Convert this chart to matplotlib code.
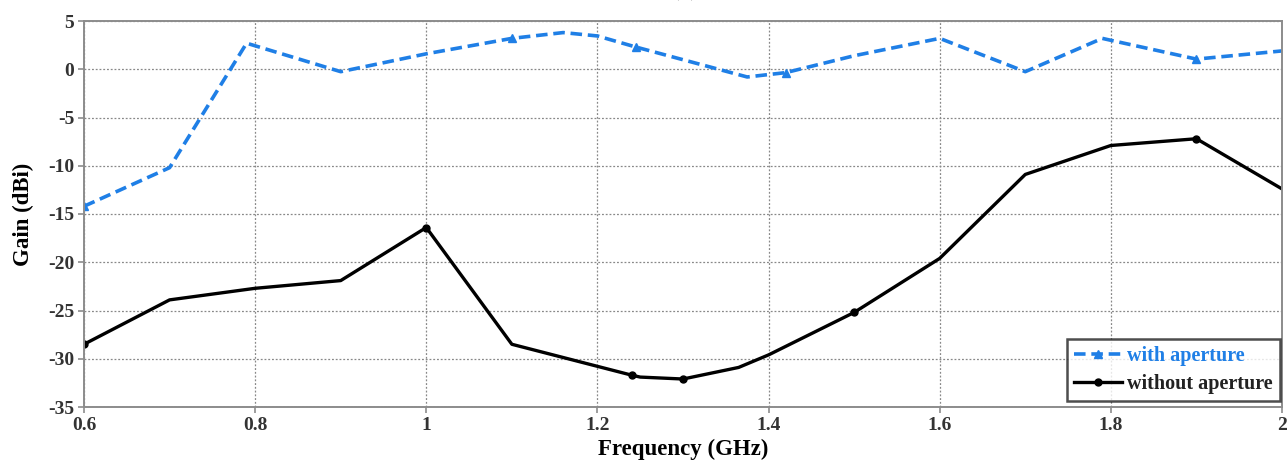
import matplotlib.pyplot as plt

# ── 資料 ────────────────────────────────────────────
freq_with = [0.6, 0.7, 0.79, 0.9, 1.0, 1.1, 1.16, 1.2, 1.245, 1.375,
             1.42, 1.5, 1.6, 1.7, 1.79, 1.8, 1.9, 2.0]
gain_with = [-14.2, -10.2, 2.7, -0.25, 1.6, 3.2, 3.8, 3.45, 2.3, -0.8,
             -0.35, 1.4, 3.2, -0.25, 3.2, 3.0, 1.05, 1.9]
marks_with = [0, 5, 8, 10, 16]

freq_without = [0.6, 0.7, 0.8, 0.9, 1.0, 1.1, 1.24, 1.25, 1.3, 1.365,
                1.4, 1.5, 1.6, 1.7, 1.8, 1.9, 2.0]
gain_without = [-28.5, -23.9, -22.7, -21.9, -16.4, -28.5, -31.7, -31.9, -32.1, -30.9,
                -29.6, -25.2, -19.6, -10.9, -7.9, -7.2, -12.4]
marks_without = [0, 4, 6, 8, 11, 15]

x_ticks = [0.6, 0.8, 1.0, 1.2, 1.4, 1.6, 1.8, 2.0]
x_labels = ["0.6", "0.8", "1", "1.2", "1.4", "1.6", "1.8", "2"]
y_ticks = list(range(-35, 6, 5))

BLUE = "#1f7fe6"
SERIF = ["Liberation Serif", "DejaVu Serif"]

plt.rcParams["font.family"] = SERIF
plt.rcParams["font.weight"] = "bold"
plt.rcParams["axes.unicode_minus"] = False

fig = plt.figure(figsize=(12.88, 4.74), dpi=100)
ax = fig.add_axes([84 / 1288, 1 - 407 / 474, 1198 / 1288, 386 / 474])

ax.plot(freq_with, gain_with, color=BLUE, lw=2.6, ls=(0, (3.2, 1.6)),
        marker="^", ms=6, markevery=marks_with, label="with aperture")
ax.plot(freq_without, gain_without, color="black", lw=2.4,
        marker="o", ms=5, markevery=marks_without, label="without aperture")

ax.set_xlim(0.6, 2.0)
ax.set_ylim(-35, 5)
ax.set_xticks(x_ticks)
ax.set_xticklabels(x_labels)
ax.set_yticks(y_ticks)
ax.grid(True, color="#888888", ls=(0, (1.5, 1.5)), lw=0.9)
ax.set_axisbelow(True)

for s in ax.spines.values():
    s.set_color("#8c8c8c")
    s.set_linewidth(1.4)
ax.tick_params(axis="both", labelsize=14, colors="#8c8c8c", length=4,
               width=1.2, labelcolor="#333333", pad=3)
for lab in ax.get_xticklabels() + ax.get_yticklabels():
    lab.set_fontweight("bold")

ax.set_xlabel("Frequency (GHz)", fontsize=16.5, fontweight="bold", labelpad=4)
ax.set_ylabel("Gain (dBi)", fontsize=16.5, fontweight="bold", labelpad=10)

leg = ax.legend(loc="lower right", bbox_to_anchor=(1.0, 0.01),
                prop={"family": SERIF, "weight": "bold", "size": 14.5},
                frameon=True, fancybox=False, handlelength=2.4,
                handletextpad=0.25, borderpad=0.35, labelspacing=0.4,
                borderaxespad=0.1)
leg.get_frame().set_edgecolor("#222222")
leg.get_frame().set_linewidth(1.8)
leg.get_texts()[0].set_color(BLUE)
leg.get_texts()[1].set_color("#222222")

# 上方被裁切的子圖標籤（原圖即被裁掉）
fig.text(685 / 1288, 1.0 + 4 / 474, "(a)", ha="center", va="baseline",
         fontsize=16, color="#333333")

fig.savefig("out.png", dpi=100)
